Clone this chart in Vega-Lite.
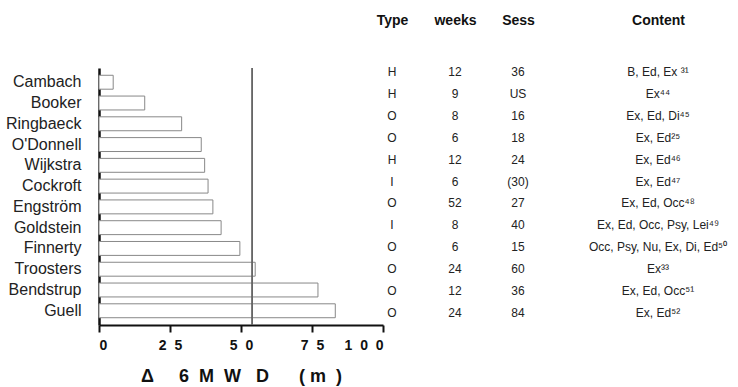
{
  "$schema": "https://vega.github.io/schema/vega-lite/v6.json",
  "padding": {"left": 5, "top": 13, "right": 0, "bottom": 2},
  "bounds": "flush",
  "spacing": 9,
  "config": {
    "view": {"stroke": null},
    "font": "Liberation Sans",
    "axis": {"labelFont": "Liberation Sans", "titleFont": "Liberation Sans"}
  },
  "data": {
    "values": [
      {"study": "Cambach", "change": 5.0, "Type": "H", "weeks": "12", "Sess": "36", "Content": "B, Ed, Ex ³¹"},
      {"study": "Booker", "change": 16.1, "Type": "H", "weeks": "9", "Sess": "US", "Content": "Ex⁴⁴"},
      {"study": "Ringbaeck", "change": 29.1, "Type": "O", "weeks": "8", "Sess": "16", "Content": "Ex, Ed, Di⁴⁵"},
      {"study": "O'Donnell", "change": 36.0, "Type": "O", "weeks": "6", "Sess": "18", "Content": "Ex, Ed²⁵"},
      {"study": "Wijkstra", "change": 37.2, "Type": "H", "weeks": "12", "Sess": "24", "Content": "Ex, Ed⁴⁶"},
      {"study": "Cockroft", "change": 38.4, "Type": "I", "weeks": "6", "Sess": "(30)", "Content": "Ex, Ed⁴⁷"},
      {"study": "Engström", "change": 40.1, "Type": "O", "weeks": "52", "Sess": "27", "Content": "Ex, Ed, Occ⁴⁸"},
      {"study": "Goldstein", "change": 43.0, "Type": "I", "weeks": "8", "Sess": "40", "Content": "Ex, Ed, Occ, Psy, Lei⁴⁹"},
      {"study": "Finnerty", "change": 49.6, "Type": "O", "weeks": "6", "Sess": "15", "Content": "Occ, Psy, Nu, Ex, Di, Ed⁵⁰"},
      {"study": "Troosters", "change": 55.0, "Type": "O", "weeks": "24", "Sess": "60", "Content": "Ex³³"},
      {"study": "Bendstrup", "change": 77.1, "Type": "O", "weeks": "12", "Sess": "36", "Content": "Ex, Ed, Occ⁵¹"},
      {"study": "Guell", "change": 83.2, "Type": "O", "weeks": "24", "Sess": "84", "Content": "Ex, Ed⁵²"}
    ]
  },
  "hconcat": [
    {
      "width": 284,
      "height": 257,
      "layer": [
        {
          "mark": {"type": "bar", "fill": "white", "stroke": "#888888", "strokeWidth": 1},
          "encoding": {
            "y": {
              "field": "study", "type": "nominal", "sort": null,
              "scale": {"paddingInner": 0.33, "paddingOuter": 0.35},
              "axis": {
                "title": null, "ticks": false, "labelFontSize": 16, "labelColor": "#222222",
                "labelPadding": 18, "labelLimit": 300,
                "domainColor": "#111111", "domainWidth": 2.5
              }
            },
            "x": {
              "field": "change", "type": "quantitative",
              "scale": {"domain": [0, 100], "nice": false, "zero": true},
              "axis": {
                "values": [0, 25, 50, 75, 100], "grid": false,
                "labelExpr": "join(split(datum.label, ''), '\u00a0\u00a0')",
                "labelFontSize": 14, "labelFontWeight": "bold", "labelColor": "#111111",
                "labelPadding": 6,
                "tickSize": 7, "tickWidth": 2, "tickColor": "#111111",
                "domainColor": "#111111", "domainWidth": 2,
                "title": "Δ\u00a0\u00a0\u00a0\u00a0\u00a06\u00a0\u00a0M\u00a0\u00a0W\u00a0\u00a0\u00a0D\u00a0\u00a0\u00a0\u00a0\u00a0\u00a0(\u00a0m\u00a0\u00a0)\u00a0\u00a0\u00a0",
                "titleFontSize": 18, "titleFontWeight": "bold", "titleColor": "#111111",
                "titlePadding": 15
              }
            }
          }
        },
        {
          "mark": {"type": "rule", "color": "#666666", "strokeWidth": 0.9},
          "encoding": {"x": {"datum": 54}}
        }
      ]
    },
    {
      "width": 126,
      "height": 249,
      "transform": [{"fold": ["Type", "weeks", "Sess"], "as": ["col", "val"]}],
      "mark": {"type": "text", "fontSize": 12, "fill": "#222222", "baseline": "middle"},
      "encoding": {
        "x": {
          "field": "col", "type": "nominal",
          "scale": {"type": "point", "domain": ["Type", "weeks", "Sess"], "padding": 0},
          "axis": {
            "orient": "top", "title": null, "ticks": false, "domain": false,
            "labelAngle": 0, "labelFontSize": 14, "labelFontWeight": "bold",
            "labelColor": "#111111", "labelPadding": 41
          }
        },
        "y": {
          "field": "study", "type": "nominal", "sort": null,
          "scale": {"type": "point", "padding": 0.18},
          "axis": null
        },
        "text": {"field": "val"}
      }
    },
    {
      "width": 262,
      "height": 249,
      "mark": {"type": "text", "fontSize": 12, "fill": "#222222", "baseline": "middle"},
      "encoding": {
        "x": {
          "datum": "Content", "type": "nominal",
          "scale": {"type": "point", "padding": 0},
          "axis": {
            "orient": "top", "title": null, "ticks": false, "domain": false,
            "labelAngle": 0, "labelFontSize": 14, "labelFontWeight": "bold",
            "labelColor": "#111111", "labelPadding": 41
          }
        },
        "y": {
          "field": "study", "type": "nominal", "sort": null,
          "scale": {"type": "point", "padding": 0.18},
          "axis": null
        },
        "text": {"field": "Content"}
      }
    }
  ]
}
